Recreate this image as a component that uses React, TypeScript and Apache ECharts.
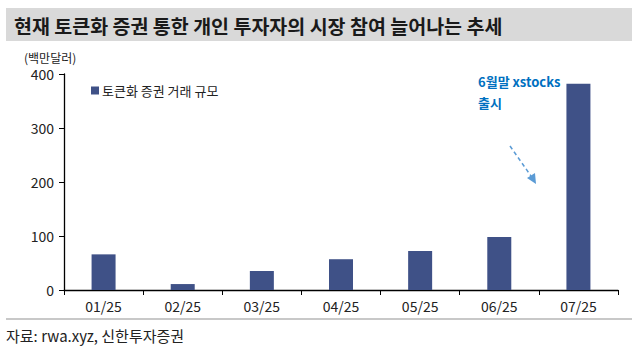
import React, { useEffect, useRef } from "react";
import * as echarts from "echarts";

const categories = ["01/25", "02/25", "03/25", "04/25", "05/25", "06/25", "07/25"];
const values = [66, 11, 35, 57, 72, 98, 382];
const yTicks = [0, 100, 200, 300, 400];
const seriesName = "토큰화 증권 거래 규모";
const titleText = "현재 토큰화 증권 통한 개인 투자자의 시장 참여 늘어나는 추세";
const unitText = "(백만달러)";
const sourceText = "자료: rwa.xyz, 신한투자증권";
const noteLines = ["6월말 xstocks", "출시"];

const FONT = "'Noto Sans CJK KR', 'Noto Sans', sans-serif";

export default function App() {
  const ref = useRef<HTMLDivElement>(null);
  useEffect(() => {
    if (!ref.current) return;
    const chart = echarts.init(ref.current, null, { renderer: "svg" });
    chart.setOption({
      animation: false,
      backgroundColor: "#ffffff",
      textStyle: { fontFamily: FONT },
      grid: { left: 64, right: 22, top: 74, bottom: 63, containLabel: false },
      legend: {
        data: [seriesName],
        left: 86,
        top: 79,
        itemWidth: 8,
        itemHeight: 8,
        itemGap: 4,
        icon: "rect",
        textStyle: { fontSize: 13, color: "#222", fontFamily: FONT, padding: [0, 0, 0, -2] },
      },
      xAxis: {
        type: "category",
        data: categories,
        axisLine: { lineStyle: { color: "#000", width: 1.3 } },
        axisTick: { show: true, alignWithLabel: false, length: 5, lineStyle: { color: "#000" } },
        axisLabel: { color: "#222", fontSize: 14, margin: 9, fontFamily: FONT },
      },
      yAxis: {
        type: "value",
        min: yTicks[0],
        max: yTicks[yTicks.length - 1],
        interval: 100,
        splitLine: { show: false },
        axisLine: { show: true, lineStyle: { color: "#000", width: 1.3 } },
        axisTick: { show: true, length: 5, lineStyle: { color: "#000" } },
        axisLabel: { color: "#222", fontSize: 14, margin: 10, fontFamily: FONT },
      },
      series: [
        {
          name: seriesName,
          type: "bar",
          data: values,
          barWidth: 24,
          itemStyle: { color: "#3f5187" },
        },
      ],
      graphic: [
        { type: "rect", shape: { x: 6, y: 8, width: 626, height: 33 }, style: { fill: "#d9d9d9" }, z: -1 },
        {
          type: "text",
          x: 14,
          y: 25,
          style: { text: titleText, fill: "#1a1a1a", font: `bold 19.5px ${FONT}`, textVerticalAlign: "middle" },
        },
        {
          type: "text",
          x: 24,
          y: 57,
          style: { text: unitText, fill: "#222", font: `12px ${FONT}`, textVerticalAlign: "middle" },
        },
        {
          type: "text",
          x: 478,
          y: 81,
          style: { text: noteLines[0], fill: "#0070c0", font: `bold 13px ${FONT}`, textVerticalAlign: "middle" },
        },
        {
          type: "text",
          x: 478,
          y: 102,
          style: { text: noteLines[1], fill: "#0070c0", font: `bold 13px ${FONT}`, textVerticalAlign: "middle" },
        },
        {
          type: "line",
          shape: { x1: 510, y1: 146, x2: 531, y2: 176 },
          style: { stroke: "#5b9bd5", lineWidth: 1.5, lineDash: [4, 3] },
        },
        {
          type: "polygon",
          shape: { points: [[536, 184], [527, 178], [535, 173]] },
          style: { fill: "#5b9bd5" },
        },
        { type: "rect", shape: { x: 6, y: 318, width: 626, height: 2 }, style: { fill: "#c8c8c8" } },
        {
          type: "text",
          x: 6,
          y: 335,
          style: { text: sourceText, fill: "#222", font: `15px ${FONT}`, textVerticalAlign: "middle" },
        },
      ],
    });
    return () => chart.dispose();
  }, []);
  return <div ref={ref} style={{ width: 640, height: 353, position: "absolute", left: 0, top: 0 }} />;
}
